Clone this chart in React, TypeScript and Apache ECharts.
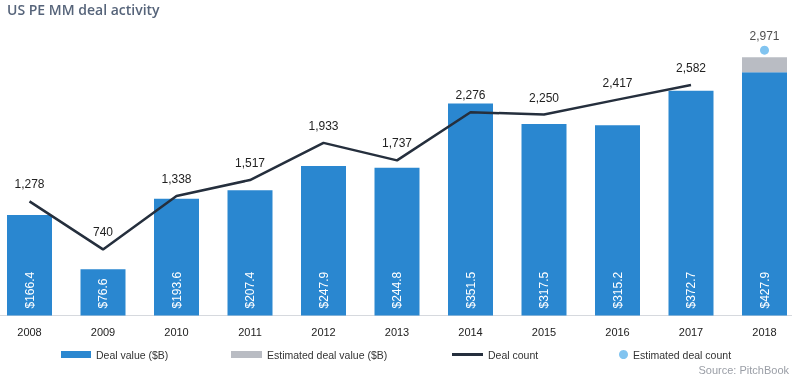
import React, { useEffect, useRef } from "react";
import * as echarts from "echarts";

const years = ["2008", "2009", "2010", "2011", "2012", "2013", "2014", "2015", "2016", "2017", "2018"];
const dealValue = [166.4, 76.6, 193.6, 207.4, 247.9, 244.8, 351.5, 317.5, 315.2, 372.7, 403.0];
const estimatedValue = [null, null, null, null, null, null, null, null, null, null, 24.9];
const valueLabels = ["$166.4", "$76.6", "$193.6", "$207.4", "$247.9", "$244.8", "$351.5", "$317.5", "$315.2", "$372.7", "$427.9"];
const dealCount = [1278, 740, 1338, 1517, 1933, 1737, 2276, 2250, 2417, 2582, null];
const estimatedCount = [null, null, null, null, null, null, null, null, null, null, 2971];

const BLUE = "#2a87d0";
const GREY = "#b9bcc3";
const NAVY = "#252f3d";
const DOT = "#62b5ec";
const SANS = '"Liberation Sans", Arial, sans-serif';
const fmt = (v: number) => v.toLocaleString("en-US");

// The chart div is 812px wide and shifted 10px left so the plot can bleed past both edges.
const OFF = 10;

export default function App() {
  const ref = useRef<HTMLDivElement>(null);
  useEffect(() => {
    if (!ref.current) return;
    const chart = echarts.init(ref.current, null, { renderer: "svg" });
    const legendText = { color: "#333", fontFamily: SANS, fontSize: 10.5 };
    const legendBase = { top: 349, padding: 0, selectedMode: false, textStyle: legendText, itemGap: 0 };
    chart.setOption({
      animation: false,
      title: {
        text: "US PE MM deal activity",
        left: 2 + OFF,
        top: -3,
        textStyle: { fontFamily: '"Open Sans", sans-serif', fontSize: 14, fontWeight: 600, color: "#56647a" },
      },
      grid: { left: 2.75, right: 0.75, top: 44, bottom: 63.5 },
      xAxis: {
        type: "category",
        data: years,
        axisLine: { lineStyle: { color: "#d6d9de", width: 1 } },
        axisTick: { show: false },
        axisLabel: { color: "#222", fontFamily: SANS, fontSize: 11, margin: 11 },
      },
      yAxis: [
        { type: "value", min: 0, max: 450, show: false, splitLine: { show: false } },
        { type: "value", min: 0, max: 3040, show: false, splitLine: { show: false } },
      ],
      legend: [
        { ...legendBase, left: 61 + OFF, itemWidth: 30, itemHeight: 7, icon: "rect", data: ["Deal value ($B)"] },
        { ...legendBase, left: 231 + OFF, itemWidth: 31, itemHeight: 7, icon: "rect", data: ["Estimated deal value ($B)"] },
        { ...legendBase, left: 452 + OFF, itemWidth: 31, itemHeight: 3, icon: "rect", data: ["Deal count"], itemStyle: { color: NAVY, opacity: 1 } },
        { ...legendBase, left: 619 + OFF, itemWidth: 9, itemHeight: 9, icon: "circle", data: ["Estimated deal count"] },
      ],
      graphic: [
        {
          type: "text",
          right: 13,
          top: 364,
          style: { text: "Source: PitchBook", fill: "#9a9ea6", fontSize: 11, fontFamily: SANS },
        },
      ],
      series: [
        {
          name: "Deal value ($B)",
          type: "bar",
          stack: "v",
          barWidth: 45,
          data: dealValue,
          itemStyle: { color: BLUE },
          label: {
            show: true,
            position: "insideBottom",
            distance: 7,
            rotate: 90,
            align: "left",
            verticalAlign: "middle",
            color: "#fff",
            fontSize: 12,
            fontFamily: SANS,
            formatter: (p: any) => valueLabels[p.dataIndex],
          },
        },
        {
          name: "Estimated deal value ($B)",
          type: "bar",
          stack: "v",
          barWidth: 45,
          data: estimatedValue,
          itemStyle: { color: GREY },
        },
        {
          name: "Deal count",
          type: "line",
          yAxisIndex: 1,
          data: dealCount,
          symbol: "circle",
          symbolSize: 0.1,
          showSymbol: true,
          lineStyle: { color: NAVY, width: 2.5 },
          itemStyle: { color: NAVY },
          label: {
            show: true,
            position: "top",
            distance: 11,
            color: "#222",
            fontSize: 12,
            fontFamily: SANS,
            formatter: (p: any) => fmt(p.value),
          },
        },
        {
          name: "Estimated deal count",
          type: "scatter",
          yAxisIndex: 1,
          data: estimatedCount,
          symbolSize: 9,
          itemStyle: { color: DOT },
          label: {
            show: true,
            position: "top",
            distance: 4,
            color: "#222",
            fontSize: 12,
            fontFamily: SANS,
            formatter: (p: any) => fmt(p.value),
          },
        },
      ],
    });
    return () => chart.dispose();
  }, []);
  return <div ref={ref} style={{ position: "fixed", left: -OFF, top: 0, width: 812, height: 379 }} />;
}
